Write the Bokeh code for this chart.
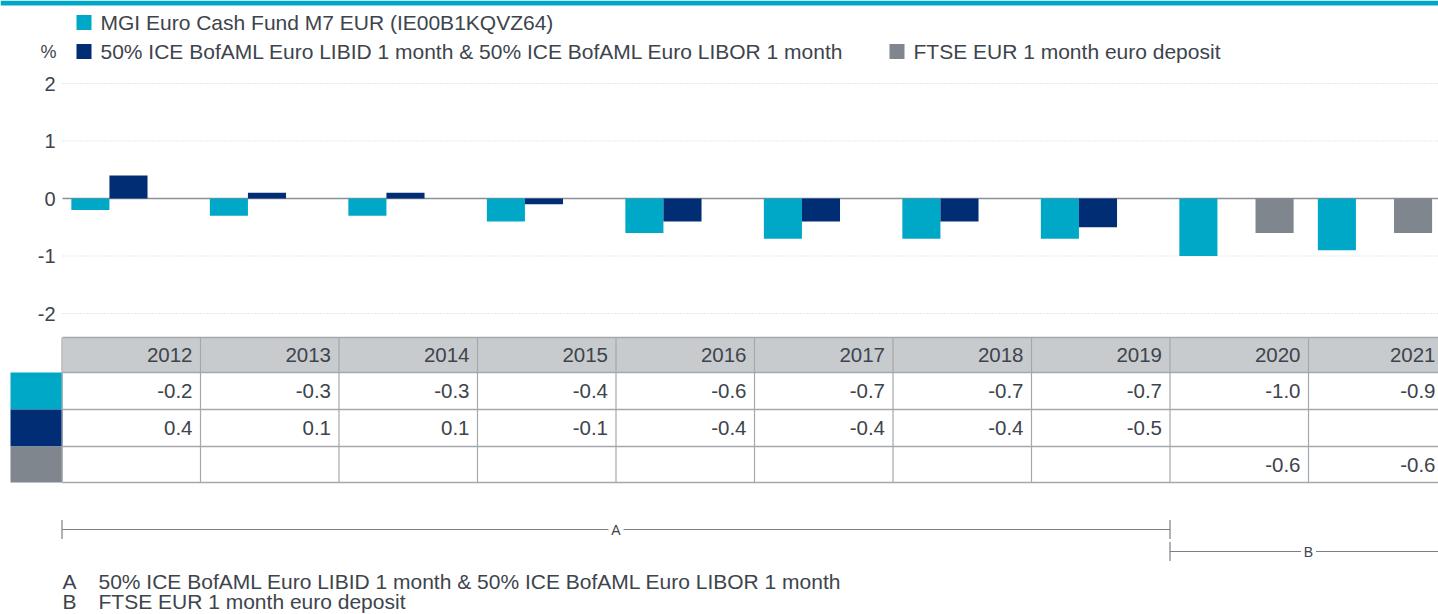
from bokeh.plotting import figure
from bokeh.models import Range1d
from bokeh.core.properties import value
from bokeh.embed import file_html
from bokeh.resources import INLINE

# ---------------- data ----------------
years = ["2012", "2013", "2014", "2015", "2016", "2017", "2018", "2019", "2020", "2021"]
fund = [-0.2, -0.3, -0.3, -0.4, -0.6, -0.7, -0.7, -0.7, -1.0, -0.9]
libid_libor = [0.4, 0.1, 0.1, -0.1, -0.4, -0.4, -0.4, -0.5, None, None]
ftse_deposit = [None, None, None, None, None, None, None, None, -0.6, -0.6]
series_names = [
    "MGI Euro Cash Fund M7 EUR (IE00B1KQVZ64)",
    "50% ICE BofAML Euro LIBID 1 month & 50% ICE BofAML Euro LIBOR 1 month",
    "FTSE EUR 1 month euro deposit",
]
y_ticks = [2, 1, 0, -1, -2]
period_labels = ["A", "B"]
period_start = [0, 8]   # index of first year in the period
period_end = [8, 10]    # index after last year
period_names = [series_names[1], series_names[2]]

# ---------------- style ----------------
TEAL = "#00a8c8"
NAVY = "#002d74"
GREY = "#7f868d"
TXT = "#3d444c"
FONT = value("Liberation Sans")
FS = "21px"
FS_TAB = "20.5px"

W, H = 1438, 614
X0, CW = 61.5, 138.5      # left edge of first category, category width (px)
Y0, YU = 198.0, 57.5      # pixel of value 0, pixels per unit


def ux(px):
    return (px - X0) / CW


def uy(py):
    return (Y0 - py) / YU


p = figure(width=W, height=H, x_range=Range1d(ux(0), ux(W)), y_range=Range1d(uy(H), uy(0)),
           x_axis_type=None, y_axis_type=None, output_backend="svg", toolbar_location=None,
           min_border=0)
p.grid.visible = False
p.outline_line_color = None

# top band
p.quad(left=[ux(0)], right=[ux(W)], top=[uy(0)], bottom=[uy(5)], fill_color=TEAL, line_color=None)

# legend
leg_rows = [22, 51, 51]
leg_sq_x = [76, 76, 889]
leg_colors = [TEAL, NAVY, GREY]
p.quad(left=[ux(x) for x in leg_sq_x], right=[ux(x + 15) for x in leg_sq_x],
       top=[uy(y - 7.5) for y in leg_rows], bottom=[uy(y + 7.5) for y in leg_rows],
       fill_color=leg_colors, line_color=None)
p.text(x=[ux(x + 24) for x in leg_sq_x], y=[uy(y) for y in leg_rows], text=series_names,
       text_font=FONT, text_font_size=FS, text_color=TXT, text_baseline="middle", text_align="left")
p.text(x=[ux(56)], y=[uy(51)], text=["%"], text_font=FONT, text_font_size="18px", text_color=TXT,
       text_baseline="middle", text_align="right")

# grid + ticks
grid_t = [t for t in y_ticks if t != 0]
p.segment(x0=[ux(62)] * len(grid_t), x1=[ux(W)] * len(grid_t), y0=grid_t, y1=grid_t,
          line_color="#cfd3d6", line_width=1, line_dash="1 2")
p.segment(x0=[ux(62)], x1=[ux(W)], y0=[0], y1=[0], line_color="#8a9096", line_width=1.5)
p.text(x=[ux(55)] * len(y_ticks), y=y_ticks, text=[str(t) for t in y_ticks],
       text_font=FONT, text_font_size="20px", text_color=TXT, text_baseline="middle", text_align="right")

# bars
offsets = [0.205, 0.48, 0.755]
BW = 0.275
for vals, off, col in zip([fund, libid_libor, ftse_deposit], offsets, leg_colors):
    xs = [i + off for i, v in enumerate(vals) if v is not None]
    tops = [v for v in vals if v is not None]
    p.vbar(x=xs, top=tops, bottom=0, width=BW, fill_color=col, line_color=None)

# table
row_edges = [337, 372, 409, 446, 482]
n = len(years)
p.quad(left=[ux(62)], right=[n], top=[uy(row_edges[0])], bottom=[uy(row_edges[1])],
       fill_color="#c8cbce", line_color=None)
p.quad(left=[ux(10)] * 3, right=[ux(62)] * 3, top=[uy(y) for y in row_edges[1:4]],
       bottom=[uy(y) for y in row_edges[2:5]], fill_color=leg_colors, line_color=None)
p.segment(x0=[ux(62)] * 5, x1=[n] * 5, y0=[uy(y) for y in row_edges], y1=[uy(y) for y in row_edges],
          line_color="#a4a8ac", line_width=1.5)
p.segment(x0=list(range(n + 1)), x1=list(range(n + 1)), y0=[uy(row_edges[0])] * (n + 1),
          y1=[uy(row_edges[-1])] * (n + 1), line_color="#a4a8ac", line_width=1.2)

pad = 8 / CW
right_limit = ux(W - 3)
cell_x = [min(i + 1 - pad, right_limit) for i in range(n)]
row_c = [(row_edges[k] + row_edges[k + 1]) / 2 for k in range(4)]
p.text(x=cell_x, y=[uy(row_c[0])] * n, text=years,
       text_font=FONT, text_font_size=FS_TAB, text_color=TXT, text_baseline="middle", text_align="right")
for k, vals in enumerate([fund, libid_libor, ftse_deposit]):
    xs = [cell_x[i] for i, v in enumerate(vals) if v is not None]
    ts = ["%.1f" % v for v in vals if v is not None]
    p.text(x=xs, y=[uy(row_c[k + 1])] * len(xs), text=ts, text_font=FONT, text_font_size=FS_TAB,
           text_color=TXT, text_baseline="middle", text_align="right")

# period brackets
LINE = "#7a7f85"
br_y = [529, 551]
gap = 7.5 / CW
for lab, s, e, yy in zip(period_labels, period_start, period_end, br_y):
    xs = max(s, ux(62))
    mid = (s + e) / 2
    p.segment(x0=[xs, mid + gap], x1=[mid - gap, e], y0=[uy(yy)] * 2, y1=[uy(yy)] * 2,
              line_color=LINE, line_width=1.2)
    p.segment(x0=[s], x1=[s], y0=[uy(yy - 9.5)], y1=[uy(yy + 9.5)], line_color=LINE, line_width=1.2)
    if e < n:
        p.segment(x0=[e], x1=[e], y0=[uy(yy - 9.5)], y1=[uy(yy + 9.5)], line_color=LINE, line_width=1.2)
    p.text(x=[mid], y=[uy(yy)], text=[lab], text_font=FONT, text_font_size="14px", text_color=TXT,
           text_baseline="middle", text_align="center")

# footnotes
fn_y = [581, 601]
p.text(x=[ux(62)] * 2, y=[uy(y) for y in fn_y], text=period_labels, text_font=FONT, text_font_size=FS,
       text_color=TXT, text_baseline="middle", text_align="left")
p.text(x=[ux(98)] * 2, y=[uy(y) for y in fn_y], text=period_names, text_font=FONT, text_font_size=FS,
       text_color=TXT, text_baseline="middle", text_align="left")

open("out.html", "w").write(file_html(p, INLINE))
